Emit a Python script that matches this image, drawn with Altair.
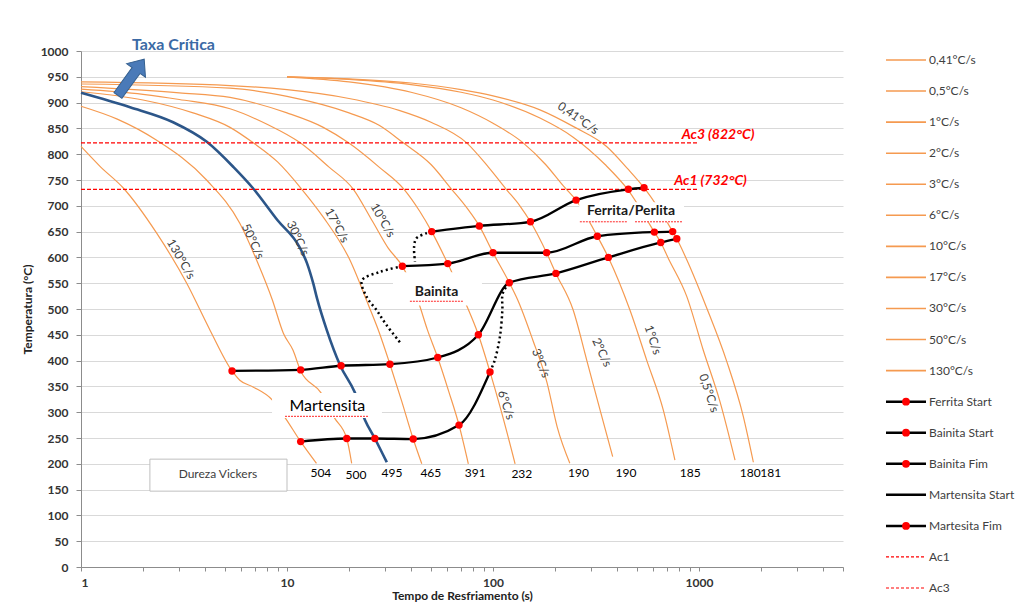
import altair as alt
import pandas as pd

# ---------------- cooling curves (time s, temperature °C) ----------------
c130_t = [1, 1.24, 1.6, 2.33, 3.26, 4.23, 5.41, 5.9, 6.84, 8.47, 9.8, 11.65, 13.9]
c130_T = [815, 776, 735, 647, 550, 459, 380, 362, 349, 324, 289, 243, 201]

c50_t = [1, 1.5, 2.33, 4.07, 5.9, 7.2, 8.5, 9.6, 10.7, 11.65, 14.6, 17, 19.5, 20.6]
c50_T = [893, 868, 827, 750, 666, 590, 517, 453, 420, 380, 338, 289, 249, 201]

c30_t = [1, 1.73, 2.8, 4.08, 5.5, 6.84, 9, 11.5, 12.5, 13.4, 14, 15.6, 18.1, 21.3, 23.9, 26.7, 30.5]
c30_T = [919, 891, 862, 824, 775, 734, 672, 620, 589, 550, 520, 459, 391, 339, 285, 249, 203]

c17_t = [1, 2, 3.5, 5.29, 6.86, 9, 11.8, 15, 20.2, 25, 28, 31.6, 36, 41, 45.1]
c17_T = [921, 905, 880, 852, 822, 785, 732, 678, 595, 505, 455, 393, 322, 248, 200]

c10_t = [1, 2, 3, 5.29, 8, 11.6, 16, 21, 26, 31, 36.3, 43.4, 48, 53.9, 61, 68.4, 75.9]
c10_T = [926, 916, 906, 888, 858, 822, 775, 732, 670, 618, 583, 514, 460, 406, 340, 275, 200]

c6_t = [1, 3, 5.29, 10, 15, 19.9, 28, 37, 44, 50.4, 60.3, 73.1, 84.9, 96.7, 110, 128]
c6_T = [931, 919, 910, 880, 852, 822, 775, 732, 690, 650, 588, 514, 450, 378, 300, 200]

c3_t = [1, 5.29, 10, 20, 28, 36.7, 50, 63, 75, 85.8, 100, 120, 132, 156, 183, 205, 236]
c3_T = [936, 928, 912, 880, 856, 822, 780, 732, 695, 661, 609, 551, 517, 440, 357, 271, 201]

c2_t = [1, 5.29, 10, 20, 35, 50, 74.5, 95, 116, 135, 152, 182, 202, 245, 285, 331, 381]
c2_T = [940, 933, 925, 908, 885, 862, 822, 775, 732, 700, 669, 609, 569, 498, 401, 304, 214]

c1_t = [10, 20, 40, 70, 100, 140, 180, 220, 253, 321, 363, 462, 557, 671, 764]
c1_T = [950, 940, 920, 890, 860, 822, 780, 738, 711, 641, 600, 498, 401, 304, 207]

c05_t = [10, 20, 40, 70, 100, 169, 245, 350, 454, 607, 652, 710, 871, 1049, 1265, 1496]
c05_T = [950, 945, 935, 920, 905, 870, 833, 780, 730, 649, 629, 598, 525, 420, 320, 207]

c041_t = [10, 20, 40, 70, 100, 169, 250, 356, 450, 541, 745, 780, 871, 1090, 1362, 1640, 1836]
c041_T = [950, 946, 938, 925, 913, 886, 852, 815, 772, 735, 650, 636, 596, 502, 399, 292, 203]

# ---------------- transformation lines ----------------
ferr_t = [50.4, 85.8, 152, 253, 454, 541]
ferr_T = [650, 661, 669, 711, 732, 735]

bs_t = [36.3, 60.3, 100, 182, 321, 607, 745]
bs_T = [583, 588, 609, 609, 641, 649, 650]

bf_t = [5.41, 11.65, 18.3, 31.6, 53.9, 84.9, 120, 202, 363, 652, 780]
bf_T = [380, 382, 390, 393, 406, 450, 551, 569, 600, 629, 636]

mf_t = [11.65, 19.5, 26.7, 41, 68.4, 96.7]
mf_T = [243, 249, 249, 248, 275, 378]

# dotted boundaries
dot_f_t = [50.4, 47.6, 42.5, 41.4, 41.8]
dot_f_T = [650, 647, 637, 621, 592]
dot_b_t = [36.3, 28.3, 23.1, 24.4, 27.2, 30.4, 35.4]
dot_b_T = [583, 572, 555, 523, 498, 469, 435]
dot_m_t = [96.7, 102, 108, 111, 111.5, 120]
dot_m_T = [378, 401, 446, 498, 530, 551]

# critical temperatures
ac_names = ["Ac1", "Ac3"]
ac_T = [732, 822]
ac_t = [1, 1000]

# Vickers hardness at the end of each curve
hv_vals = ["504", "500", "495", "465", "391", "232", "190", "190", "185", "180", "181"]
hv_t = [14.6, 21.6, 32.3, 49.9, 82.0, 138, 260, 442, 906, 1771, 2230]
hv_T = [183, 178, 183, 183, 183, 180, 183, 183, 183, 183, 183]

# rate labels on curves
rl_text = ["130°C/s", "50°C/s", "30°C/s", "17°C/s", "10°C/s", "6°C/s", "3°C/s",
           "2°C/s", "1°C/s", "0,5°C/s", "0,41°C/s"]
rl_t = [3.06, 6.84, 11.3, 17.5, 29.2, 116, 171, 338, 598, 1119, 259]
rl_T = [597, 631, 637, 662, 672, 314, 395, 416, 440, 337, 870]
rl_angle = [60, 65, 65, 62, 60, 72, 68, 65, 72, 72, 35]

legend_names = ["0,41°C/s", "0,5°C/s", "1°C/s", "2°C/s", "3°C/s", "6°C/s", "10°C/s",
                "17°C/s", "30°C/s", "50°C/s", "130°C/s", "Ferrita Start",
                "Bainita Start", "Bainita Fim", "Martensita Start", "Martesita Fim",
                "Ac1", "Ac3"]
legend_kind = ["rate"] * 11 + ["dot", "dot", "dot", "line", "dot", "dash", "dash"]

ORANGE = "#f59a50"
BLUE = "#2c5689"
FONT = "Lato"
TXT = "#404040"


def long(pairs):
    rows = []
    for name, (ts, Ts) in pairs.items():
        for i, (a, b) in enumerate(zip(ts, Ts)):
            rows.append({"series": name, "t": a, "T": b, "i": i})
    return pd.DataFrame(rows)


orange_df = long({"130": (c130_t, c130_T), "50": (c50_t, c50_T), "17": (c17_t, c17_T),
                  "10": (c10_t, c10_T), "6": (c6_t, c6_T), "3": (c3_t, c3_T),
                  "2": (c2_t, c2_T), "1": (c1_t, c1_T), "0.5": (c05_t, c05_T),
                  "0.41": (c041_t, c041_T)})
blue_df = long({"30": (c30_t, c30_T)})
black_df = long({"ferr": (ferr_t, ferr_T), "bs": (bs_t, bs_T), "bf": (bf_t, bf_T),
                 "mf": (mf_t, mf_T)})
dotted_df = long({"f": (dot_f_t, dot_f_T), "b": (dot_b_t, dot_b_T), "m": (dot_m_t, dot_m_T)})
ac_df = pd.DataFrame([{"series": n, "t": tt, "T": T, "i": k}
                      for n, T in zip(ac_names, ac_T) for k, tt in enumerate(ac_t)])
hv_df = pd.DataFrame({"txt": hv_vals, "t": hv_t, "T": hv_T})
rl_df = pd.DataFrame({"txt": rl_text, "t": rl_t, "T": rl_T, "a": rl_angle})

x_ticks = [m * 10 ** e for e in range(0, 4) for m in range(1, 10)] + [2000, 3000, 4000, 5000]
xs = alt.Scale(type="log", domain=[1, 5000])
ys = alt.Scale(domain=[0, 1000], nice=False)

xaxis = alt.Axis(values=x_ticks, format="d",
                 labelExpr="indexof([1,10,100,1000], datum.value) >= 0 ? datum.label : ''",
                 grid=False, tickSize=4, labelPadding=6, title="Tempo de Resfriamento (s)",
                 titlePadding=2)
yaxis = alt.Axis(values=list(range(0, 1001, 50)), format="d", grid=True, tickSize=5,
                 labelPadding=8, title="Temperatura (°C)", titlePadding=6)


def XX(f="t"):
    return alt.X(f + ":Q", scale=xs, axis=xaxis)


def YY(f="T"):
    return alt.Y(f + ":Q", scale=ys, axis=yaxis)


orange = alt.Chart(orange_df).mark_line(color=ORANGE, strokeWidth=1.2, interpolate="monotone").encode(
    x=XX(), y=YY(), detail="series:N", order="i:Q")
blue = alt.Chart(blue_df).mark_line(color=BLUE, strokeWidth=2.6, interpolate="monotone").encode(
    x=XX(), y=YY(), order="i:Q")

# white label boxes
box_df = pd.DataFrame({
    "t": [8.46, 32.7, 262], "t2": [28.9, 88.4, 846],
    "T": [289, 507, 668], "T2": [337, 571, 707]})
boxes = alt.Chart(box_df).mark_rect(color="white").encode(
    x=XX(), x2="t2:Q", y=YY(), y2="T2:Q")

dure_df = pd.DataFrame({"t": [2.16], "t2": [10.0], "T": [147], "T2": [209]})
dure_box = alt.Chart(dure_df).mark_rect(fill="white", stroke="#bfbfbf", strokeWidth=1).encode(
    x=XX(), x2="t2:Q", y=YY(), y2="T2:Q")

# spell-check style underlines below the phase labels
sq_df = pd.DataFrame({"t": [9.78, 39.5, 264, 489], "t2": [24.8, 71.6, 447, 827],
                      "T": [292, 515, 669, 669]})
squig = alt.Chart(sq_df).mark_rule(color="#ff0000", strokeWidth=1, strokeDash=[2, 1],
                                   opacity=0.85).encode(x=XX(), x2="t2:Q", y=YY())

ac = alt.Chart(ac_df).mark_line(color="#ff0000", strokeWidth=1.3, strokeDash=[4, 2]).encode(
    x=XX(), y=YY(), detail="series:N", order="i:Q")

black = alt.Chart(black_df).mark_line(color="black", strokeWidth=2.3, interpolate="monotone").encode(
    x=XX(), y=YY(), detail="series:N", order="i:Q")
dotted = alt.Chart(dotted_df).mark_line(color="black", strokeWidth=2.5, strokeDash=[2, 3],
                                        interpolate="catmull-rom").encode(
    x=XX(), y=YY(), detail="series:N", order="i:Q")
dots = alt.Chart(black_df).mark_circle(color="#ff0000", size=55, opacity=1).encode(x=XX(), y=YY())

hv = alt.Chart(hv_df).mark_text(font=FONT, fontSize=12, color="black").encode(
    x=XX(), y=YY(), text="txt:N")
rl = alt.Chart(rl_df).mark_text(font=FONT, fontSize=12, color=TXT).encode(
    x=XX(), y=YY(), text="txt:N", angle=alt.Angle("a:Q", scale=None))

ann_df = pd.DataFrame({
    "txt": ["Martensita", "Bainita", "Ferrita/Perlita", "Dureza Vickers"],
    "t": [15.7, 53.2, 468, 4.62], "T": [312, 533, 689, 180]})
ann_big = alt.Chart(ann_df.iloc[:1]).mark_text(font=FONT, fontSize=16, color="black").encode(
    x=XX(), y=YY(), text="txt:N")
ann_bold = alt.Chart(ann_df.iloc[1:3]).mark_text(font=FONT, fontSize=14, fontWeight="bold",
                                                 color="#1a1a1a").encode(x=XX(), y=YY(), text="txt:N")
ann_small = alt.Chart(ann_df.iloc[3:]).mark_text(font=FONT, fontSize=12, color=TXT).encode(
    x=XX(), y=YY(), text="txt:N")

acl_df = pd.DataFrame({"txt": ["Ac3 (822°C)", "Ac1 (732°C)"], "t": [1237, 1137], "T": [837, 749]})
acl = alt.Chart(acl_df).mark_text(font=FONT, fontSize=14, fontStyle="italic", fontWeight="bold",
                                  color="#ff0000").encode(x=XX(), y=YY(), text="txt:N")

taxa_df = pd.DataFrame({"txt": ["Taxa Crítica"], "t": [2.81], "T": [1012]})
taxa = alt.Chart(taxa_df).mark_text(font=FONT, fontSize=16, fontWeight="bold",
                                    color="#3b6aa5").encode(x=XX(), y=YY(), text="txt:N")
arrow_df = pd.DataFrame({"t": [1.75], "T": [949]})
ARROW = "M0,-1 L0.52,-0.38 L0.22,-0.38 L0.22,1 L-0.22,1 L-0.22,-0.38 L-0.52,-0.38 Z"
arrow = alt.Chart(arrow_df).mark_point(shape=ARROW, size=2000, filled=True, fill="#4a7ab8",
                                       stroke="#35608f", strokeWidth=1, opacity=1,
                                       angle=36).encode(x=XX(), y=YY())

main = alt.layer(orange, blue, boxes, dure_box, squig, ac, black, dotted, dots, hv, rl,
                 ann_big, ann_bold, ann_small, acl, taxa, arrow)

# ---------------- legend ----------------
leg_df = pd.DataFrame({"name": legend_names, "kind": legend_kind, "idx": list(range(len(legend_names)))})
LY = alt.Y("idx:Q", scale=alt.Scale(domain=[0, 17], range=[9, 537]), axis=None)
leg_base = alt.Chart(leg_df)
leg_rate = leg_base.transform_filter("datum.kind == 'rate'").mark_rule(
    color=ORANGE, strokeWidth=1.6).encode(x=alt.value(805), x2=alt.value(845), y=LY)
leg_black = leg_base.transform_filter("datum.kind == 'dot' || datum.kind == 'line'").mark_rule(
    color="black", strokeWidth=2.5).encode(x=alt.value(805), x2=alt.value(845), y=LY)
leg_dash = leg_base.transform_filter("datum.kind == 'dash'").mark_rule(
    color="#ff0000", strokeWidth=1.2, strokeDash=[3, 2]).encode(x=alt.value(805), x2=alt.value(845), y=LY)
leg_dot = leg_base.transform_filter("datum.kind == 'dot'").mark_circle(
    color="#ff0000", size=60, opacity=1).encode(x=alt.value(825), y=LY)
leg_txt = leg_base.mark_text(align="left", baseline="middle", font=FONT, fontSize=12,
                             color=TXT).encode(x=alt.value(848), y=LY, text="name:N")
legend = alt.layer(leg_rate, leg_black, leg_dash, leg_dot, leg_txt)

chart = alt.layer(main, legend).resolve_scale(y="independent").properties(
    width=762, height=516,
    autosize=alt.AutoSizeParams(type="none"),
    padding={"left": 73, "top": 43, "right": 180, "bottom": 38},
    background="white",
).configure_view(stroke=None).configure_axis(
    labelFont=FONT, labelFontSize=12, labelFontWeight="bold", labelColor="#333333",
    titleFont=FONT, titleFontSize=12, titleFontWeight="bold", titleColor="#222222",
    domainColor="#8c8c8c", tickColor="#8c8c8c", gridColor="#d9d9d9", gridWidth=1.2,
)

chart.save("out.html", embed_options={"renderer": "svg", "actions": False})
